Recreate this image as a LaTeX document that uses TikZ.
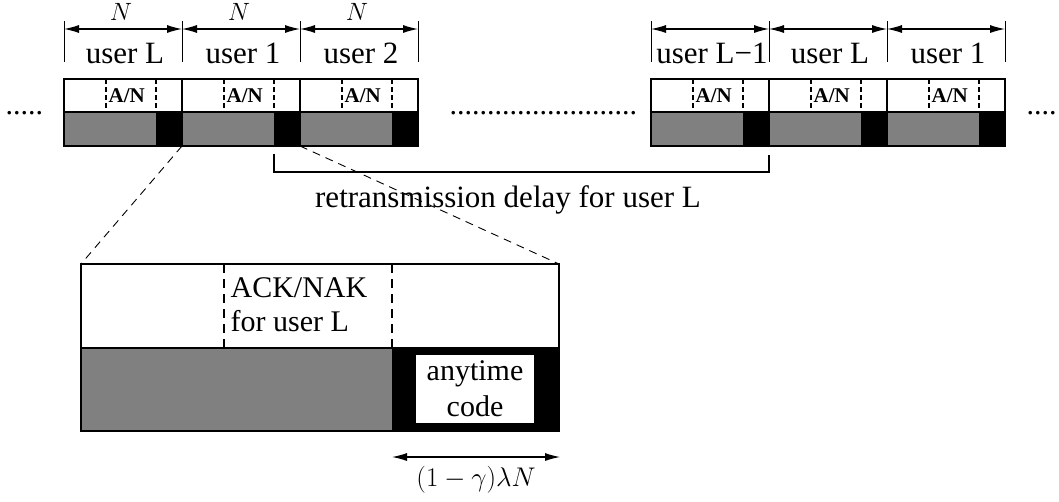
\RequirePackage{fix-cm}
\documentclass[tikz,border=0pt]{standalone}
\usepackage{fontspec}
\setmainfont{Liberation Serif}
\usetikzlibrary{arrows.meta}
\begin{document}
\begin{tikzpicture}[x=1pt,y=-1pt,line width=1.3pt,
  lbl/.style={font=\fontsize{30}{34}\selectfont,inner sep=0pt,anchor=base},
  biglbl/.style={lbl,font=\fontsize{31}{35}\selectfont},
  anlbl/.style={font=\fontsize{21}{24}\selectfont\bfseries,inner sep=0pt,anchor=base west},
  mathlbl/.style={font=\fontsize{27}{32}\selectfont,inner sep=0pt,anchor=base},
  slotlen/.style={mathlbl,font=\fontsize{25}{30}\selectfont},
  dimline/.style={line width=1.1pt,{Latex[length=15pt,width=8pt]}-{Latex[length=15pt,width=8pt]}},
  tickline/.style={line width=1pt},
  anline/.style={line width=1.2pt,dash pattern=on 5pt off 3pt},
  ackline/.style={line width=1.3pt,dash pattern=on 9pt off 6pt},
  zoomline/.style={line width=0.9pt,dash pattern=on 8pt off 6pt},
  payload/.style={fill=gray},
  codepart/.style={fill=black}]
\path[use as bounding box] (0,0) rectangle (1059,501);

% ---- time slots: one per user ----
\foreach \x/\n/\lab in {64/a/user L,182/b/user 1,300/c/user 2,651/d/user L−1,769/e/user L,887/f/user 1}{
  \fill[payload]  (\x,112) rectangle (\x+92,146);
  \fill[codepart] (\x+92,112) rectangle (\x+118,146);
  \draw[anline] (\x+42,79) -- (\x+42,112);
  \draw[anline] (\x+92,79) -- (\x+92,112);
  \draw (\x,79) rectangle (\x+118,146);
  \draw (\x,112) -- (\x+118,112);
  \node[anlbl] (an\n) at (\x+44,102) {A/N};
  \node[biglbl] (user\n) at (\x+61,63) {\lab};
}

% ---- slot length markers ----
\foreach \x/\n in {64/0,182/1,300/2,418/3,651/4,769/5,887/6,1005/7}{
  \coordinate (t\n) at (\x,29);
  \draw[tickline] (\x,21) -- (\x,62);
}
\foreach \a/\b in {0/1,1/2,2/3,4/5,5/6,6/7}{
  \draw[dimline] (t\a) -- (t\b);
}
\node[slotlen] (na) at (121,20) {$N$};
\node[slotlen] (nb) at (239,20) {$N$};
\node[slotlen] (nc) at (357,20) {$N$};

% ---- continuation dots ----
\node[lbl,anchor=base west] (dl) at (5,114) {.....};
\node[lbl,anchor=base west] (dm) at (449,114) {.........................};
\node[lbl,anchor=base west] (dr) at (1026,114) {....};

% ---- retransmission delay bracket ----
\coordinate (rs) at (274,154);
\coordinate (re) at (769,155);
\draw (rs) -- ++(0,18) -| (re);
\node[biglbl] (rd) at (508,207) {retransmission delay for user L};

% ---- enlarged slot ----
\coordinate (zl) at (182,146);
\coordinate (zr) at (300,146);
\coordinate (bl) at (81,264);
\coordinate (br) at (559,264);
\draw[zoomline] (zl) -- (bl);
\draw[zoomline] (zr) -- (br);

\fill[payload]  (81,348) rectangle (392,431);
\fill[codepart] (392,348) rectangle (559,431);
\draw[ackline] (224,264) -- (224,348);
\draw[ackline] (392,264) -- (392,348);
\draw (bl) rectangle (559,431);
\draw (81,348) -- (559,348);

\node[lbl,anchor=base west] (ack) at (230,297) {ACK/NAK};
\node[lbl,anchor=base west] (forl) at (230,331) {for user L};

\node[fill=white,inner sep=0pt,minimum width=118pt,minimum height=68pt,
      align=center,font=\fontsize{30}{36}\selectfont] (atc) at (475,389) {anytime\\code};

% ---- anytime code length ----
\coordinate (ga) at (392,457);
\coordinate (gb) at (560,457);
\draw[dimline] (ga) -- (gb);
\node[mathlbl] (glab) at (476,486) {$(1-\gamma)\lambda N$};
\end{tikzpicture}
\end{document}
